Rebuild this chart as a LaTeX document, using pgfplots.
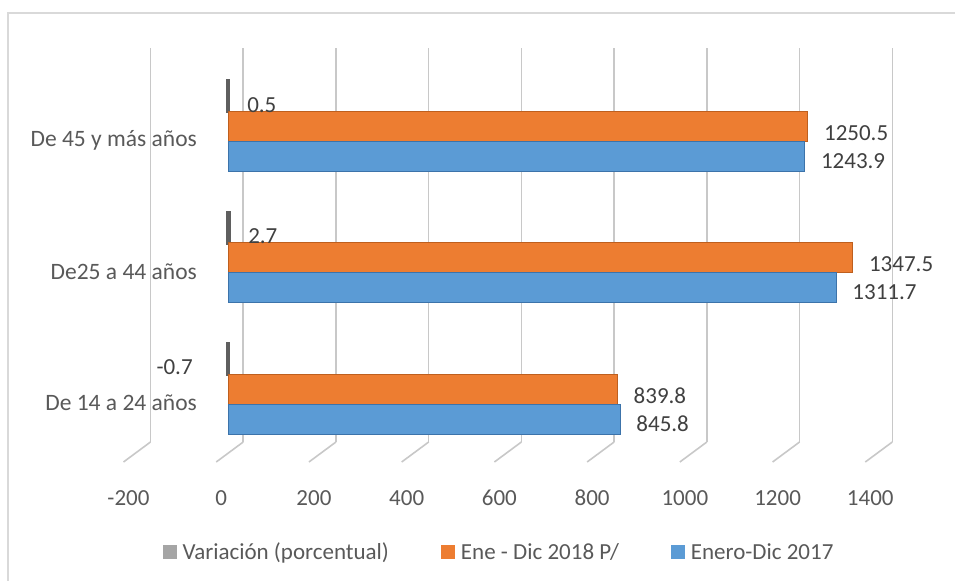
\documentclass[border=0pt]{standalone}
\usepackage{fontspec}
\setmainfont{Carlito}
\usepackage{pgfplots}
\pgfplotsset{compat=1.18}
\definecolor{cblue}{RGB}{91,155,213}
\definecolor{cbluedk}{RGB}{60,115,170}
\definecolor{corange}{RGB}{237,125,49}
\definecolor{corangedk}{RGB}{190,95,30}
\definecolor{cgray}{RGB}{165,165,165}
\definecolor{cgraydk}{RGB}{95,95,95}
\definecolor{txt}{RGB}{89,89,89}
\definecolor{lbl}{RGB}{64,64,64}
\definecolor{gridc}{RGB}{200,200,200}
\definecolor{bordc}{RGB}{217,217,217}
\newcommand{\cf}{\fontsize{23bp}{27bp}\selectfont}
\newcommand{\yf}{\fontsize{23.5bp}{28bp}\selectfont}
\begin{document}
\begin{tikzpicture}
\path[use as bounding box] (0,0) rectangle (955bp,581bp);
\draw[bordc, line width=1.3bp] (8bp,-10bp) -- (8bp,568bp) -- (965bp,568bp);
% back wall gridlines and floor
\begin{axis}[
  at={(150.5bp,139bp)}, anchor=south west, scale only axis,
  width=741.8bp, height=394bp,
  xmin=-200, xmax=1400, ymin=0, ymax=1,
  xtick={-200,0,200,400,600,800,1000,1200,1400}, ytick=\empty,
  xmajorgrids, major grid style={gridc, line width=1.6bp},
  axis line style={draw=none}, tick style={draw=none},
  xticklabel style={anchor=center, xshift=-22bp, yshift=-56bp, font=\cf, text=txt},
  /pgf/number format/assume math mode=true,
  /pgf/number format/1000 sep={},
  clip=false,
]
\pgfplotsinvokeforeach{-200,0,200,400,600,800,1000,1200,1400}{
  \draw[gridc, line width=1.6bp] (axis cs:#1,0) -- ++(-27bp,-20bp);
}
\end{axis}
% bars
\begin{axis}[
  at={(135.3bp,125.4bp)}, anchor=south west, scale only axis,
  width=741.8bp, height=410bp,
  xmin=-200, xmax=1400, ymin=-0.4, ymax=2.72,
  xbar, bar width=30bp,
  ytick={0,1,2}, yticklabels={De 14 a 24 años, De25 a 44 años, De 45 y más años},
  xtick=\empty,
  axis line style={draw=none}, tick style={draw=none},
  yticklabel style={anchor=east, inner sep=0pt, xshift=66bp, font=\yf, text=txt},
  clip=false,
  point meta=x,
  nodes near coords={\pgfmathprintnumber[fixed,fixed zerofill,precision=1,1000 sep={},assume math mode=true]{\pgfplotspointmeta}},
  every node near coord/.append style={font=\cf, text=lbl, inner sep=0pt},
  legend columns=3,
  legend style={at={(0.4903,-0.2351)}, anchor=center, draw=none, fill=none,
    inner sep=0pt, font=\cf, text=txt,
    /tikz/every odd column/.append style={column sep=4bp},
    /tikz/every even column/.append style={column sep=50bp}},
  legend image code/.code={\fill[#1,draw=none] (0bp,-7bp) rectangle (14bp,7bp);},
]
\addplot[fill=cgray, draw=cgraydk, line width=4bp, bar shift=44bp,
  every node near coord/.append style={anchor=west, xshift=17bp, yshift=-9bp}]
  coordinates {(0.5,2) (2.7,1)};
\addlegendentry{Variación (porcentual)}
\addplot[fill=cgray, draw=cgraydk, line width=4bp, bar shift=44bp, forget plot,
  every node near coord/.append style={anchor=east, xshift=-33bp, yshift=-8bp}]
  coordinates {(-0.7,0)};
\addplot[fill=corange, draw=corangedk, line width=0.6bp, bar shift=14bp,
  every node near coord/.append style={anchor=west, xshift=16bp, yshift=-7bp}]
  coordinates {(839.8,0) (1347.5,1) (1250.5,2)};
\addlegendentry{Ene - Dic 2018 P/}
\addplot[fill=cblue, draw=cbluedk, line width=0.6bp, bar shift=-16bp,
  every node near coord/.append style={anchor=west, xshift=16bp, yshift=-5bp}]
  coordinates {(845.8,0) (1311.7,1) (1243.9,2)};
\addlegendentry{Enero-Dic 2017}
\end{axis}
\end{tikzpicture}
\end{document}
